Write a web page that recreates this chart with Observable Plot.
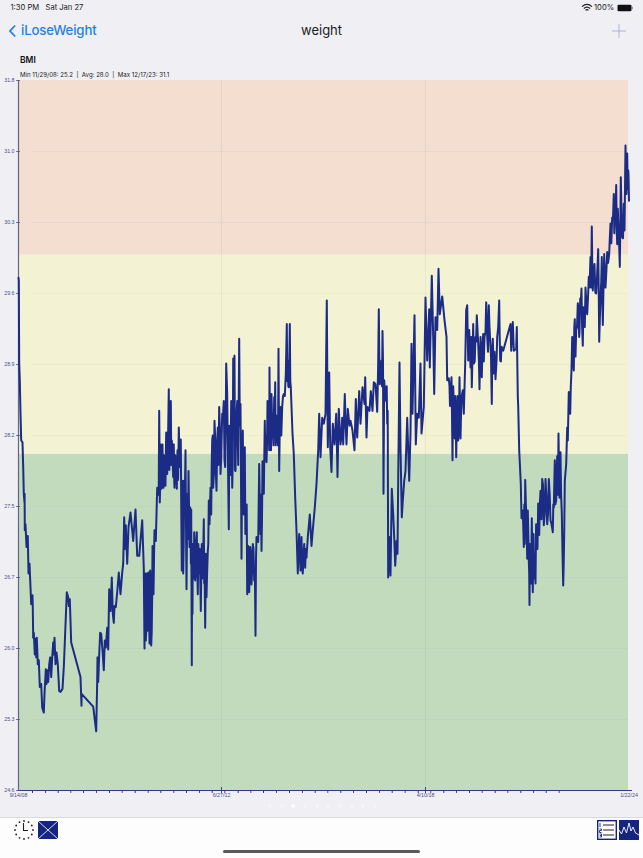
<!DOCTYPE html>
<html><head><meta charset="utf-8">
<script src="https://cdn.jsdelivr.net/npm/d3@7"></script>
<script src="https://cdn.jsdelivr.net/npm/@observablehq/plot@0.6"></script>
<style>
html,body{margin:0;padding:0;width:643px;height:858px;overflow:hidden;background:#efeff4;font-family:Inter,"Liberation Sans",sans-serif}
#chart{position:absolute;left:0;top:0}
.t{position:absolute;white-space:nowrap;line-height:1}
#bar{position:absolute;left:0;top:817px;width:643px;height:41px;background:#fdfdfe;border-top:1px solid #d9d9dc;box-sizing:border-box}
#home{position:absolute;left:223px;top:850px;width:197px;height:3px;border-radius:2px;background:#5a5a5c}
svg.icon{position:absolute;overflow:visible}
</style></head><body>
<div id="chart"></div>
<div class="t" style="left:10.5px;top:4px;font-size:7.6px;color:#222">1:30 PM&nbsp;&nbsp; Sat Jan 27</div>
<div class="t" style="left:594px;top:4px;font-size:7.6px;color:#222">100%</div>
<svg class="icon" style="left:581px;top:3px" width="12" height="10" viewBox="0 0 12 10"><path d="M1 3.6C4 1 8 1 11 3.6M2.8 5.5C4.8 3.8 7.2 3.8 9.2 5.5M4.5 7.2C5.5 6.4 6.5 6.4 7.5 7.2" fill="none" stroke="#222" stroke-width="1.2"/></svg>
<svg class="icon" style="left:617px;top:4px" width="17" height="8" viewBox="0 0 17 8"><rect x="0.5" y="0.8" width="14" height="6.4" rx="1.3" fill="#111"/><rect x="15" y="2.8" width="1" height="2.4" fill="#999"/></svg>
<svg class="icon" style="left:8px;top:24px" width="9" height="14" viewBox="0 0 9 14"><path d="M7.2 1.5L2 7l5.2 5.5" fill="none" stroke="#1f82ea" stroke-width="1.8"/></svg>
<div class="t" style="left:21px;top:24px;font-size:13.2px;font-weight:500;letter-spacing:-.15px;color:#1f82ea">iLoseWeight</div>
<div class="t" style="left:301px;top:24px;font-size:13px;color:#1b1b1f">weight</div>
<svg class="icon" style="left:612px;top:24px" width="14" height="14" viewBox="0 0 14 14"><path d="M7 0V14M0 7H14" stroke="#a3a3cf" stroke-width="0.8"/></svg>
<div class="t" style="left:20px;top:56px;font-size:8.5px;font-weight:600;color:#111">BMI</div>
<div class="t" style="left:20px;top:71.5px;font-size:6.1px;color:#222">Min 11/29/08: 25.2&nbsp; |&nbsp; Avg: 28.0&nbsp; |&nbsp; Max 12/17/23: 31.1</div>
<svg class="icon" id="pager" style="left:0;top:800px" width="643" height="12"></svg>
<div id="bar"></div>
<div id="home"></div>
<svg class="icon" id="clock" style="left:14px;top:820px" width="20" height="20" viewBox="0 0 20 20"></svg>
<svg class="icon" style="left:38px;top:821px" width="20" height="18" viewBox="0 0 20 18"><rect width="20" height="18" rx="1" fill="#14247f"/><path d="M0 0L10 9L20 0M0 18L10 9L20 18" fill="none" stroke="#e8ecff" stroke-width="0.9"/></svg>
<svg class="icon" style="left:597px;top:820px" width="20" height="20" viewBox="0 0 20 20"><rect x="0.7" y="0.7" width="18.6" height="18.6" fill="#fff" stroke="#14247f" stroke-width="1.4"/><path d="M6 5H17M6 10H17M6 15H17" stroke="#222" stroke-width="1"/><path d="M3 3V7M2.5 9H4.5V10.5H2.5V12.5H4.5M2.5 14H4.5V17H2.5M2.8 15.5H4.5" fill="none" stroke="#14247f" stroke-width="0.9"/></svg>
<svg class="icon" style="left:619px;top:820px" width="20" height="20" viewBox="0 0 20 20"><rect width="20" height="20" fill="#14247f"/><path d="M0 10L2.5 14L5 7L7.5 13L10 3L12 11L14 7L16.5 13L20 15" fill="none" stroke="#fff" stroke-width="0.9"/></svg>
<script>
// BMI readings as [entry number, BMI]; the app spaces entries evenly, not dates
const readingsEarly = [[0,29.8],[0.3,29.77],[0.7,28.93],[1.3,28.76],[2,28.42],[2.7,28.15],[4,28.13],[4.7,27.88],[5.3,27.61],[6,27.52],[6.1,27.61],[6.3,27.24],[7,27.3],[8,27.07],[9.3,27.18],[10,26.8],[11,26.9],[12,26.66],[12.7,26.49],[14,26.58],[14.3,26.44],[14.7,26.15],[15.3,26.2],[16.3,25.98],[17,26.14],[17.7,25.95],[18.3,26.15],[19.3,25.88],[20.3,25.92],[21.3,25.65],[22.7,25.68],[23.7,25.44],[24.7,25.41],[25.3,25.39],[26,25.58],[27.3,25.83],[28,25.68],[28.7,25.82],[29.7,25.7],[30.7,25.88],[31.7,25.95],[32.7,25.75],[33.7,25.95],[34.7,26.1],[35.3,25.98],[36,26.15],[37,25.88],[38,26],[39.3,25.88],[40.7,25.61],[42,25.6],[44,25.63],[45.3,25.85],[48.3,26.61],[49.7,26.56],[50.3,26.47],[51.3,26.54],[52.7,26.1],[62,25.75],[63,25.46],[63.1,25.58],[74.7,25.45],[77.7,25.2],[78.7,25.71],[79,25.95],[79.7,25.7],[80.7,25.98],[81.7,26.2],[82.7,26.19],[84,26.02],[85.3,25.82],[86.3,26.12],[87.3,26.05],[88.7,26.25],[89.7,26.03],[90.7,26.64],[92,26.42],[93.3,26.76],[94.3,26.39],[95.3,26.3],[96,26.47],[97.3,26.46],[98.7,26.61],[100.3,26.81],[102,26.59],[103.7,26.81],[104.7,26.9],[105.7,27.37],[106.3,27.05],[107.3,27.29],[108.7,26.9],[110,27.27],[112,27.42],[114.7,27.13],[117,27.45],[118.7,26.98],[120.7,26.98],[123.7,27.34],[125.3,26.85],[126,26.04],[126.7,26.56],[127.3,26.12],[128.3,26.8],[129,26.22],[130,26.81],[131,26.09],[131.7,26.83],[132.7,26.07],[133.7,26.59],[134,27.08],[135,26.59],[136,27.24],[137.3,27.13],[138.7,27.67],[139.7,27.67],[140.7,28.45],[141.3,27.52],[142,28.11],[143,27.66],[144,28.11],[145,27.67],[146,27.98],[147,27.69],[147.7,28.23],[148.7,27.81],[150.3,28.67],[151.3,28.01],[152.3,28.55],[153.3,28.15],[154.7,27.78],[155.3,28.11],[156,27.67],[157.3,27.88],[158.3,27.66],[159,28.05],[160.3,28.28],[161.3,27.88],[162.3,28.16],[163.3,26.83],[164,27.74],[164.7,26.8],[165.7,27.74],[167,28.05],[168,26.64],[169,27.61],[170,27.84],[171,27.07],[171.7,27.47],[172.7,27.45],[173.3,25.87],[174,26.39],[174.7,26.9],[175.7,27.22],[176.7,26.73],[178.3,27.22],[179.3,26.59],[180.3,27],[182.3,26.42],[183.3,27.1],[184.3,26.83],[185.3,27.35],[186,26.9],[186.7,26.25],[188,26.56],[189.3,27.03],[190.3,27.54],[192,27.67]];
const readingsMiddle = [[192.7,27.4],[193.7,28.15],[194.7,27.67],[196,28.35],[198,27.64],[199.3,28.28],[200.7,28.49],[202,27.81],[203.7,28.42],[205.3,28.55],[206.7,27.88],[207.7,28.93],[208.7,28.62],[210.3,27.25],[211.3,28.08],[212.7,28.55],[213.7,27.67],[214.7,28.98],[216,29.01],[217,27.84],[218.7,28.55],[220.7,29.18],[222,28.52],[223,26.95],[224.3,28.25],[225.3,27.4],[226.3,28.08],[227.7,27.4],[228.7,26.59],[229.7,27.08],[230.7,26.61],[231.7,27.07],[233,26.69],[234.3,27.1],[235.7,26.73],[237,26.17],[238,27.17],[239.7,27.12],[240.7,27.91],[242,27.2],[243,27.03],[244,27.94],[245.3,27.61],[246.3,28.35],[248,27.93],[249,28.55],[250.3,28.27],[251,28.89],[252,28.32],[253,28.62],[254.3,28.25],[255.7,28.59],[256.7,28.74],[257.7,28.25],[259,28.22],[260,29.08],[260.7,27.84],[262,28.49],[263.7,28.49],[265.3,28.62],[267.3,28.82],[268.3,29.33],[269.3,28.96],[270.3,28.69],[271.3,29.33],[272.3,28.69],[274,28.22],[275.3,28.01],[276.7,27.57],[278,27.24],[279.3,26.8],[280.7,27.2],[282,26.83],[283,27.17],[284.3,26.8],[285.7,27.1],[286.7,26.86],[288,26.96],[289.3,27.17],[291.3,27.4],[293,27.08],[294.7,27.29],[296.3,27.47],[298,27.71],[299.7,28.05],[300.7,28.42],[302,27.98],[303.7,28.38],[305.3,28.32],[307,28.42],[308.3,29.57],[309.3,28.08],[310.7,28.84],[311.7,28.08],[313,27.83],[314.3,28.32],[316,28.11],[317.7,28.42],[319,27.78],[320.3,28.47],[322,28.11],[323.7,28.38],[324.7,28.11],[326.3,28.62],[328,28.11],[329.3,28.47],[332,28.35],[334,28.25],[336,28.05],[337.3,28.57],[338.7,28.18],[340.7,28.65],[342,28.32],[344,28.69],[346,28.52],[346.7,28.79],[348,28.18],[349,28.49],[351,28.45],[352.3,28.65],[354,28.45],[355.3,28.74],[357,28.72],[358.7,28.44],[359.7,28.93],[360.3,29.48],[361.3,28.72],[363,28.96],[364,29.26],[365,27.61],[365.7,28.76],[367.7,28.55],[368.7,28.32],[369.7,26.76],[370.7,27.17],[372,26.78],[373.3,27.66],[374.7,27.4],[375.7,27.17],[376.7,26.88],[378,27.13],[379,27],[379.7,27.74],[381,28.94],[382,28.08],[383.3,27.37],[384.3,27.54],[385.7,27.74],[387,27.84],[388.7,28.38],[390.7,27.74],[392,28.22],[393,29.13],[394,28.42],[396,29.42],[397.3,28.11],[398.7,28.42],[400.3,28.38],[402,28.93],[403,28.22],[405.3,28.49],[407,29.6],[408.7,28.96],[410.7,29.48],[411.3,28.89]];
const readingsLate = [[413.3,29.82],[414.7,29.2],[415.7,28.62],[417,29.4],[418.7,29.27],[420,29.89],[421.3,29.43],[423.7,29.61],[426,29.37],[428,29.2],[428.7,28.76],[430.3,28.78],[432,28.52],[433,28.79],[434,27.95],[435.3,28.52],[436.3,28.17],[437.7,27.98],[438.7,28.49],[439.7,28.15],[441,28.79],[442,28.17],[443,28.59],[444.3,28.66],[445.3,28.42],[446.7,28.93],[447.7,29.47],[448.7,29.52],[449.7,28.96],[450.7,29.27],[452,28.89],[453.3,28.69],[454.7,29.33],[455.3,28.93],[457,29.2],[458.3,29.42],[459.7,29.13],[461,28.67],[462,29.2],[463.3,28.79],[464.7,29.23],[466,29.2],[467.7,29.55],[468.7,29.2],[470.3,29.52],[471.7,29.16],[473.3,28.52],[474.3,29.18],[475.3,28.83],[477,28.77],[478.7,29.2],[480.7,29.57],[481.7,28.96],[483,29.1],[484.7,29.06],[492,29.33],[492.7,29.06],[494.3,29.35],[495.3,29.06],[497.7,29.08],[498.3,29.3],[499.3,28.59],[499.7,28.5],[500.7,28.05],[502.3,27.71],[503,27.36],[504.3,27.44],[505.3,27.07],[506.7,27.75],[508,27.34],[509.3,27.44],[510.3,26.93],[511,26.48],[512,26.9],[513.3,27.36],[514.3,26.61],[516,27],[517,26.7],[518.3,27.17],[519.7,27.51],[520.7,27.19],[522,27.64],[523.7,27.76],[525.3,27.29],[527,27.76],[528.7,27.3],[530.3,27.76],[532,27.34],[534.3,27.22],[535.3,27.47],[536.3,27.95],[537.7,27.54],[538.7,27.99],[540,28.22],[541,27.57],[542,28.03],[543.3,27.41],[544.7,26.68],[545.7,27.2],[546.3,27.74],[547.7,27.91],[548.7,28.28],[549.3,28.15],[550.3,28.64],[551.7,28.42],[553,28.86],[553.7,29.2],[554.7,28.96],[555.3,28.86],[556.3,29.38],[557.7,29.27],[559.3,29.54],[560.7,29.2],[561.7,29.59],[563,29.69],[564.3,29.11],[565.7,29.4],[567,29.7],[568.7,29.43],[570.3,29.81],[572,30.01],[573.3,30.32],[574.3,29.67],[576,29.94],[577.7,29.64],[579.7,30.09],[580.7,29.15],[582,29.6],[583.3,30.01],[584.3,29.32],[585.7,30.04],[587,29.7],[588.7,30.06],[590.7,30.04],[592,30.35],[593.7,30.41],[595.3,30.65],[596.3,30.38],[597.7,30.74],[598.7,30.14],[600,30.28],[601.3,29.91],[602.3,30.82],[603.7,30.21],[605.3,30.55],[606,30.28],[607,31.14],[608,30.65],[608.7,31.06],[609.7,30.89],[610.5,30.58]];
// the tight day-to-day swings inside the solid parts of the trace
const readingsDenseEarly = [[126.4,26.6],[127,26.8],[127.7,26.2],[128.7,26.7],[129.5,26.3],[130.5,26.5],[131.4,26.3],[132.2,26.7],[133.2,26.2],[134.5,26.7],[135.5,26.95],[140.2,27.6],[141,28.1],[141.7,27.7],[142.5,27.8],[143.5,28],[144.5,27.7],[145.5,28],[146.5,27.75],[147.3,28],[148.2,27.85],[149.5,28.15],[150.8,27.85],[151.8,28.2],[152.8,27.9],[153.8,28.05],[155,28],[155.7,27.75],[156.7,28],[157.8,27.8],[158.7,27.95],[159.6,27.75],[160.8,28.05],[161.8,28.05],[162.8,27.4],[163.7,27.2],[164.3,27.4],[165.2,27.1],[166.3,27.55],[167.5,27.3],[168.5,27.2],[169.5,27.15],[170.5,27.5],[172,27.2],[172.4,26.9],[173.6,26.95],[174.3,27.1],[175.2,26.75],[176.2,27.1],[177.4,26.85],[177.9,27.1],[178.8,26.85],[179.8,27.1],[180.8,26.8],[181.3,27.05],[182.8,26.85],[183.8,26.75],[184.8,27.05],[185.7,26.7],[187.3,27],[188.6,26.8],[189.8,27.1],[191,27.3]];
const readingsDenseMiddle = [[193.2,27.9],[194.2,28.2],[195.3,27.8],[196.6,28.2],[197.2,27.85],[198.7,28.15],[199.8,27.9],[201.3,28.3],[202.8,28],[204.5,28.4],[206,27.95],[207.2,28.3],[209.5,27.9],[210.8,28.3],[212,27.8],[213.2,28.3],[214.2,27.9],[215.3,28.35],[216.5,27.85],[217.8,28.35],[219.7,27.9],[221.3,28.3],[222.5,27.75],[223.6,27.9],[224.8,27.6],[225.8,27.9],[226.9,27.2],[228.2,27.5],[229.2,26.8],[230.2,27],[231.2,26.8],[232.4,27],[233.7,26.85],[235,27.05],[236.4,26.8],[237.5,26.95],[241.3,27.5],[242.5,27.6],[243.5,27.35],[244.6,27.7],[246.9,27.95],[247.4,28.2],[248.5,28.1],[249.6,28.3],[250.7,28.05],[251.5,28.3],[252.5,28.05],[253.6,28.35],[255,28.1],[256.2,28.4],[257.2,28.1],[258.3,28.4],[259.5,28.1],[261.3,28.3],[262.8,28.2],[264.5,28.6],[266.3,28.6],[268.8,28.75],[269.8,28.7],[270.8,28.95],[271.8,28.75],[279.9,27],[281.3,27],[282.5,26.95],[283.6,26.9],[285,27],[286.2,26.9],[287.3,27.05],[315.2,28.2],[318.4,28.1],[321.1,28.3],[323,28.2],[327.2,28.3],[331,28.3],[360.8,29],[362.2,28.8],[363.5,28.7],[364.5,28.95],[366.7,28.6],[368.2,28.7],[369.2,28.45]];
const readingsDenseLate = [[431,28.7],[431.5,28.5],[432.5,28.7],[433.5,28.4],[434.7,28.7],[435.8,28.3],[436.9,28.6],[438.2,28.3],[439.2,28.6],[440.4,28.3],[441.5,28.5],[442.5,28.4],[451.3,29.1],[452.7,29.2],[454,29],[456.2,28.95],[457.6,29.15],[460.4,28.95],[462.7,29],[464,29.1],[465.3,28.95],[467,29.25],[468.2,29.4],[469.5,29.05],[471,29.3],[472.5,29],[473.8,29.05],[476,29.05],[478,28.95],[479.7,29.3],[481.2,29.2],[482.4,28.95],[505.8,27.5],[506.2,27.1],[507.4,27.5],[508.7,26.95],[509.8,27.2],[510.7,26.8],[511.5,27.1],[512.6,26.7],[513.9,26.85],[515,27.2],[515.5,26.75],[516.5,26.9],[517.6,27.3],[519,27.05],[520.2,27.4],[521.3,27.5],[523,27.35],[524.5,27.7],[526.2,27.4],[527.8,27.6],[529.5,27.4],[531.2,27.6],[533,27.3],[534.8,27.5],[536.8,27.5],[538.2,27.85],[539.4,27.6],[540.5,27.85],[541.5,27.9],[542.6,27.6],[544,27],[545.2,26.9],[552.3,28.7],[554.2,29],[555.8,29.3],[557,29],[558.5,29.3],[560,29.45],[561,29.25],[562.3,29.55],[563.6,29.3],[564.9,29.5],[566.3,29.3],[567.8,29.55],[569.5,29.6],[571,29.7],[572.6,29.7],[573.8,29.9],[575,29.85],[576.8,29.65],[578.5,29.8],[580.2,29.7],[581.4,29.4],[582.7,29.75],[583.8,29.55],[585,29.7],[586.3,29.85],[587.8,29.85],[589.6,29.95],[591.3,30.2],[592.8,30.15],[594.5,30.4],[595.8,30.25],[597,30.45],[598.2,30.3],[599.3,30.5],[600.6,30.15],[601.8,30.3],[603,30.45],[604.5,30.2],[606.5,30.7],[607.5,30.75],[608.4,30.85],[609.2,30.7],[610,30.85]];

const bmiTicks = [24.6,25.32,26.04,26.76,27.48,28.2,28.92,29.64,30.36,31.08,31.8];
const bmiTickLabels = ["24.6","25.3","26.0","26.7","27.5","28.2","28.9","29.6","30.3","31.0","31.8"];
const majorEntries = [0,203,407,610.5];
const majorDates = ["9/14/08","6/27/12","4/10/18","1/22/24"];
const minorEntries = [14,27,39.7,52.3,65,78,91,103.7,116.7,129.7,142.3,155.3,168,181,193.7,206.3,219.7,232.3,245,258,271,284,296.7,309.3,322.3,335,348,361,373.7,386.7,399.7,412.3,425.3,438,451,463.7,476.7,489.3,502.3,515,527.7,540.7];
const zoneStarts = [24.6,28.01,30.03];
const zoneEnds = [28.01,30.03,31.8];
const zoneColors = ["#c2dbbd","#f3f3d3","#f3decf"];

const readings = [...readingsEarly,...readingsDenseEarly,...readingsMiddle,...readingsDenseMiddle,...readingsLate,...readingsDenseLate]
  .map(([entry,bmi])=>({entry,bmi}))
  .sort((a,b)=>a.entry-b.entry);
const zones = zoneStarts.map((y1,i)=>({y1,y2:zoneEnds[i],fill:zoneColors[i]}));
const majorIndex = new Map(majorEntries.map((d,i)=>[d,majorDates[i]]));
const tickIndex = new Map(bmiTicks.map((d,i)=>[d,bmiTickLabels[i]]));
const fnt = "Liberation Sans, sans-serif";

const plot = Plot.plot({
  width:643,height:858,marginLeft:18,marginRight:14.5,marginTop:80,marginBottom:68,
  style:{background:"transparent",fontFamily:fnt},
  x:{domain:[0,610.5],axis:null},
  y:{domain:[24.6,31.8],axis:null},
  marks:[
    Plot.rect(zones,{x1:0,x2:610,y1:"y1",y2:"y2",fill:"fill"}),
    Plot.ruleY(bmiTicks.slice(1,-1),{x1:14,x2:610,stroke:"#6f6f70",strokeOpacity:0.06,strokeWidth:1}),
    Plot.ruleX(majorEntries.slice(1,-1),{y1:24.6,y2:31.8,stroke:"#6f6f70",strokeOpacity:0.09,strokeWidth:1}),
    Plot.ruleX(minorEntries,{y1:24.6,y2:24.57,stroke:(d,i)=>i%2?"#8a2a5a":"#3a2a80",strokeWidth:1}),
    Plot.ruleX(majorEntries.slice(1,-1),{y1:24.63,y2:24.57,stroke:"#3f4a8a",strokeWidth:1}),
    Plot.ruleY([24.6],{x1:0,x2:614,stroke:"#2c3a8c",strokeWidth:1}),
    Plot.ruleX([0],{y1:24.6,y2:31.8,stroke:"#5e6690",strokeWidth:1.2}),
    Plot.axisY(bmiTicks,{anchor:"left",tickSize:0,tickPadding:4,label:null,fontSize:5.3,color:"#4f4f8a",tickFormat:d=>tickIndex.get(d)}),
    Plot.ruleY(bmiTicks,{x1:-2,x2:2,stroke:"#4f5585",strokeWidth:0.8}),
    Plot.axisX(majorEntries,{anchor:"bottom",tickSize:0,tickPadding:3,label:null,fontSize:5.3,color:"#4f4f8a",tickFormat:d=>majorIndex.get(d)}),
    Plot.line(readings,{x:"entry",y:"bmi",stroke:"#1c2b85",strokeWidth:2})
  ]
});
document.getElementById("chart").append(plot);

const pagerDots = [270,282,293,305,317,328,340,352,363,375];
d3.select("#pager").selectAll("circle").data(pagerDots).join("circle")
  .attr("cx",d=>d).attr("cy",6).attr("r",1.8).attr("fill","#fff").attr("fill-opacity",(d,i)=>i===2?1:0.45);
const clockHours = d3.range(12).map(i=>i*Math.PI/6);
d3.select("#clock").selectAll("circle").data(clockHours).join("circle")
  .attr("cx",a=>10+9*Math.sin(a)).attr("cy",a=>10-9*Math.cos(a)).attr("r",0.9).attr("fill","#222");
d3.select("#clock").append("path").attr("d","M9.5 3V10.5H14").attr("fill","none").attr("stroke","#222").attr("stroke-width",1.1);
</script>
</body></html>
